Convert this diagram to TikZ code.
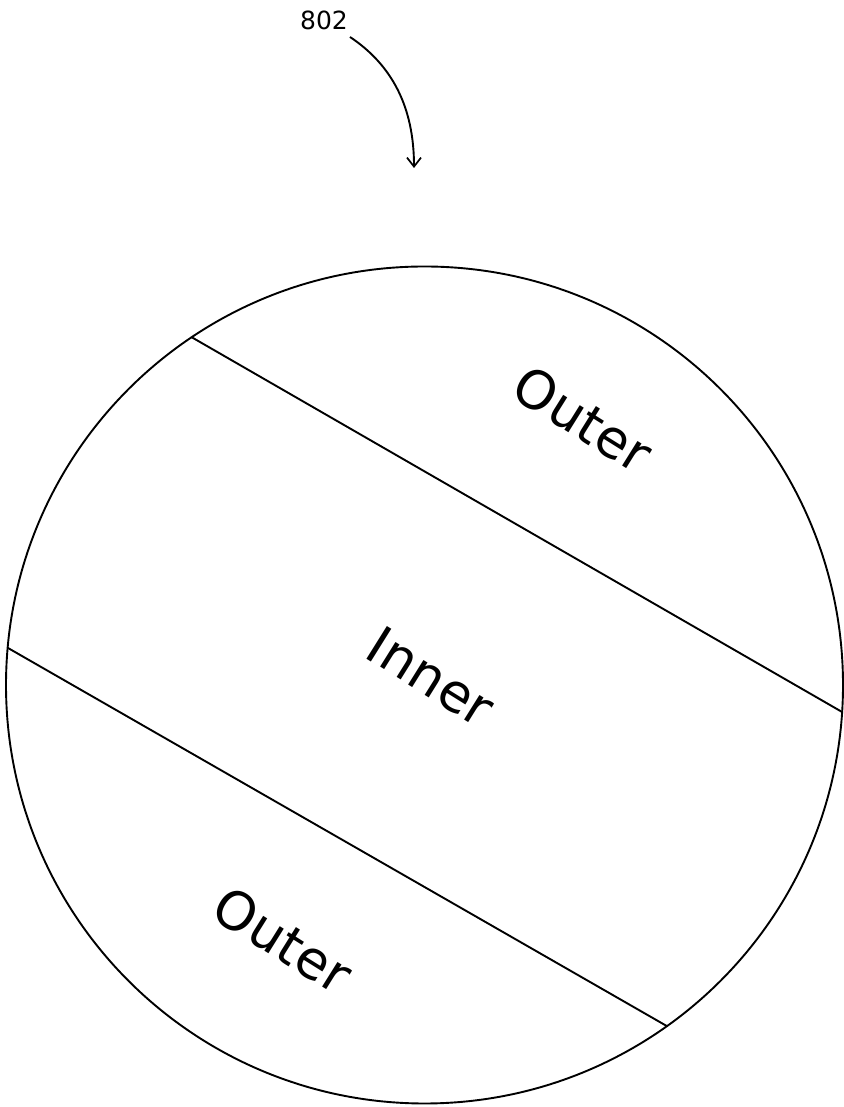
\documentclass[tikz,border=0pt]{standalone}
\usepackage{fontspec}
\setmainfont{DejaVu Sans}
\usetikzlibrary{arrows.meta,calc}
\begin{document}
\begin{tikzpicture}[x=1pt,y=1pt,
  outline/.style={line width=1.9pt, draw=black},
  region/.style={font=\fontsize{53}{58}\selectfont, rotate=-32, inner sep=0pt},
  refnum/.style={font=\fontsize{25}{29}\selectfont, inner sep=0pt},
  leader/.style={line width=1.9pt, -{Straight Barb[length=9pt,width=14pt,line width=1.7pt]}}]
  \useasboundingbox (0,0) rectangle (843,1107);
  % disc and its two chords
  \coordinate (c) at (424.5,422);
  \draw[outline] (c) circle[radius=418.5];
  \coordinate (a1) at ($(c)+(123.8:418.5)$);
  \coordinate (a2) at ($(c)+(-3.7:418.5)$);
  \coordinate (b1) at ($(c)+(174.9:418.5)$);
  \coordinate (b2) at ($(c)+(-54.6:418.5)$);
  \draw[outline] (a1) -- (a2);
  \draw[outline] (b1) -- (b2);
  % region labels
  \node[region] (outtop) at (583,688) {Outer};
  \node[region] (inner) at (431,430) {Inner};
  \node[region] (outbot) at (283,167) {Outer};
  % reference numeral with leader
  \node[refnum] (num) at (324,1087) {802};
  \coordinate (tip) at (414,939);
  \draw[leader] (350,1070) .. controls (392,1042) and (414,1000) .. (tip);
\end{tikzpicture}
\end{document}
